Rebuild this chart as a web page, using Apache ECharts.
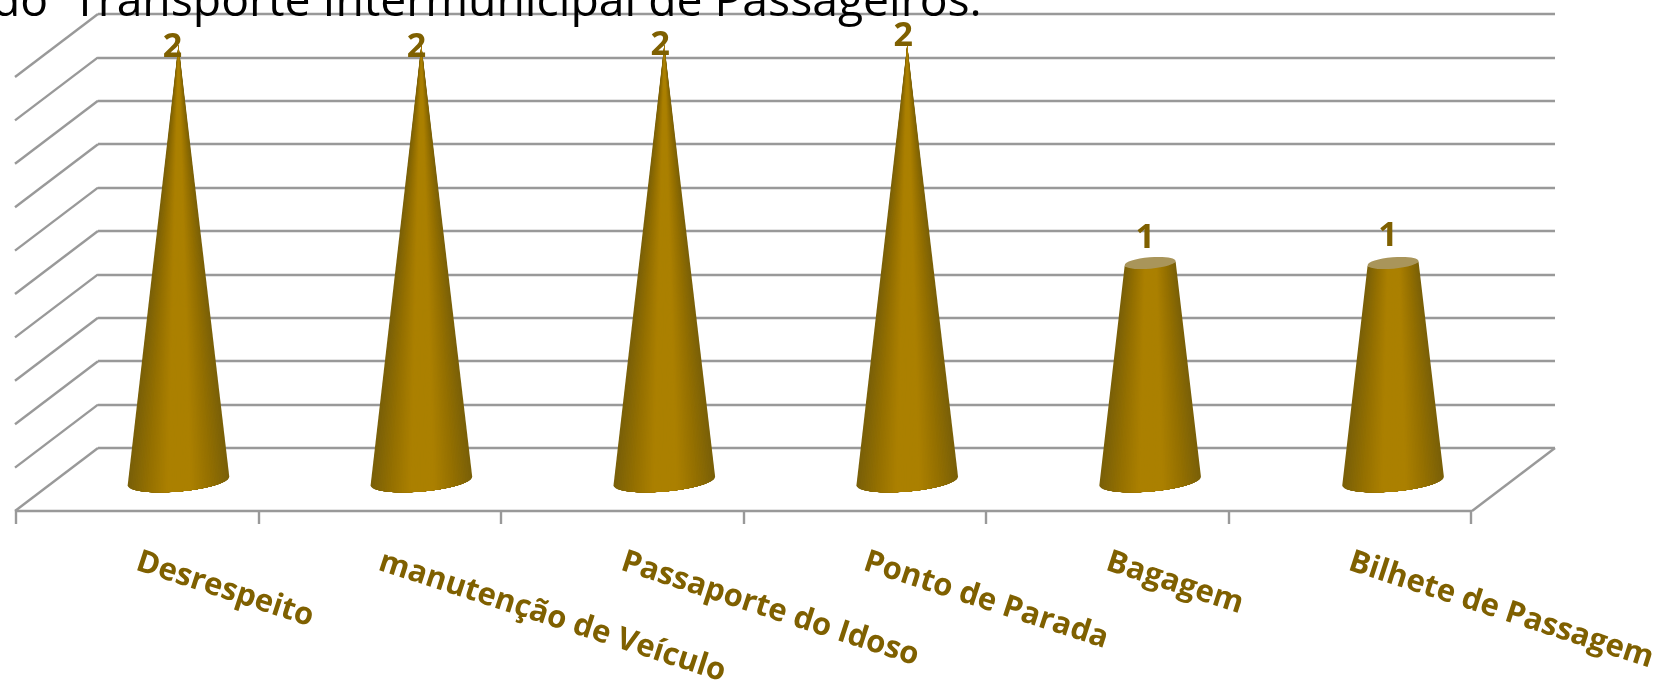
<!DOCTYPE html>
<html><head><meta charset="utf-8">
<style>html,body{margin:0;padding:0;background:#fff}#c{width:1658px;height:682px}</style>
<script src="https://cdn.jsdelivr.net/npm/echarts@6/dist/echarts.min.js"></script>
</head><body><div id="c"></div>
<script>
const categories = ['Desrespeito','manutenção de Veículo','Passaporte do Idoso','Ponto de Parada','Bagagem','Bilhete de Passagem'];
const values = [2,2,2,2,1,1];
const wallTicks = [0,0.2,0.4,0.6,0.8,1,1.2,1.4,1.6,1.8,2];
const titleText = 'do  Transporte Intermunicipal de Passageiros.';

const labelNudge = [[-6,2],[-5,2],[-4,0],[-4,-9],[-5,-25],[-5,-27]];
const lineColor = '#999999', inkColor = '#7F6000', labelFont = '"Open Sans"';
const depth = [83,-63], baseR = 51, flat = 0.205, tilt = -5*Math.PI/180, layers = 30;
const maxV = 2;

function mix(a,b,t){return a.map((v,i)=>Math.round(v+(b[i]-v)*t));}
function shade(t){
  const e=[122,96,8], m=[150,113,0], c=[171,128,0];
  const q = t<0.4 ? mix(e,m,t/0.4) : t<0.75 ? mix(m,c,(t-0.4)/0.35) : c;
  return 'rgb('+q.join(',')+')';
}
function ringPt(cx,cy,r,th){
  const x=r*Math.cos(th), y=r*flat*Math.sin(th);
  return [cx+x*Math.cos(tilt)-y*Math.sin(tilt), cy+x*Math.sin(tilt)+y*Math.cos(tilt)];
}
function renderCone(params, api){
  const i = api.value(0), v = api.value(1);
  const base = api.coord([i,0]), top = api.coord([i,v]);
  const rTop = baseR*(1-v/maxV);
  const kids = [];
  for(let k=0;k<layers;k++){
    const t=k/layers, th0=Math.acos(1-t), pts=[];
    for(let s=0;s<=24;s++){const th=th0+(Math.PI-2*th0)*s/24; pts.push(ringPt(base[0],base[1],baseR,th));}
    for(let s=24;s>=0;s--){const th=th0+(Math.PI-2*th0)*s/24; pts.push(ringPt(top[0],top[1],rTop,th));}
    kids.push({type:'polygon',shape:{points:pts},style:{fill:shade(t)}});
  }
  if(rTop>0.5){
    kids.push({type:'ellipse',shape:{cx:0,cy:0,rx:rTop,ry:rTop*flat+0.5},x:top[0],y:top[1],rotation:-tilt,style:{fill:'#a9955a'}});
  }
  const nd = labelNudge[i];
  kids.push({type:'text',x:top[0]+nd[0],y:top[1]+nd[1],style:{text:String(v),fill:inkColor,font:'bold 34px '+labelFont,textAlign:'center',textVerticalAlign:'middle'}});
  return {type:'group',children:kids};
}
function renderWall(params, api){
  const y = api.coord([0,api.value(0)])[1], g = params.coordSys, kids=[];
  const line=(x)=>({type:'line',shape:{x1:x,y1:y,x2:x-depth[0],y2:y-depth[1]},style:{stroke:lineColor,lineWidth:2.4}});
  kids.push(line(g.x));
  if(api.value(0)===0) kids.push(line(g.x+g.width));
  return {type:'group',children:kids};
}
const hiddenY = (g)=>({type:'value',gridIndex:g,min:0,max:maxV,interval:0.2,show:false});
const hiddenX = (g)=>({type:'category',gridIndex:g,data:categories,show:false});

const chart = echarts.init(document.getElementById('c'),null,{renderer:'canvas'});
chart.setOption({
  animation:false,
  backgroundColor:'#fff',
  title:{text:titleText,left:-13,top:-25,textStyle:{fontFamily:'"Open Sans"',fontWeight:'normal',fontSize:46.3,color:'#000'},z:20},
  grid:[
    {left:16,right:187,top:100,height:411,containLabel:false,outerBoundsMode:'none'},
    {left:98,right:103,top:14,bottom:234,outerBoundsMode:'none'},
    {left:57,right:143.5,top:45,bottom:201,outerBoundsMode:'none'}
  ],
  xAxis:[
    {type:'category',gridIndex:0,data:categories,boundaryGap:true,
     axisLine:{show:true,lineStyle:{color:lineColor,width:2.4}},
     axisTick:{show:true,alignWithLabel:false,length:13,lineStyle:{color:lineColor,width:2.4}},
     axisLabel:{interval:0,rotate:-18,margin:50,color:inkColor,fontFamily:labelFont,fontWeight:'bold',fontSize:31,hideOverlap:false}},
    hiddenX(1),hiddenX(2)
  ],
  yAxis:[
    hiddenY(0),
    {type:'value',gridIndex:1,min:0,max:maxV,interval:0.2,
     axisLine:{show:false},axisTick:{show:false},axisLabel:{show:false},
     splitLine:{show:true,lineStyle:{color:lineColor,width:2.4}}},
    hiddenY(2)
  ],
  series:[
    {type:'custom',xAxisIndex:1,yAxisIndex:1,data:wallTicks.map(v=>[v]),encode:{y:0},renderItem:renderWall,silent:true,clip:false,z:1},
    {type:'custom',xAxisIndex:2,yAxisIndex:2,data:values.map((v,i)=>[i,v]),encode:{x:0,y:1},renderItem:renderCone,silent:true,clip:false,z:5}
  ]
});
</script></body></html>
